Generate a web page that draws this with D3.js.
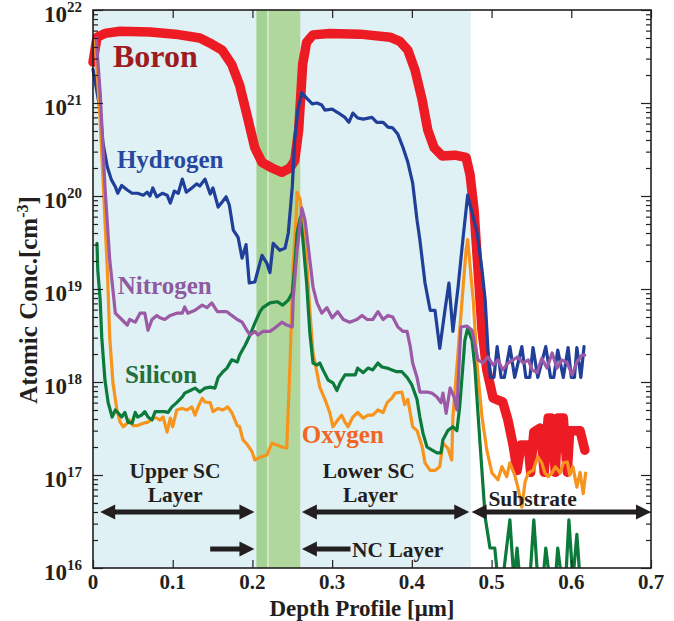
<!DOCTYPE html>
<html>
<head>
<meta charset="utf-8">
<script src="https://cdn.jsdelivr.net/npm/d3@7"></script>
<style>
  body { margin: 0; background: #fff; }
  text { font-family: "Liberation Serif", "Times New Roman", serif; font-weight: bold; }
</style>
</head>
<body>
<svg width="674" height="621"></svg>
<script>
// SIMS depth profile, [depth in um, concentration in cm^-3]
const boron = [[0,2.75e21],[0.005,5.1e21],[0.015,5.6e21],[0.034,5.9e21],[0.0715,5.8e21],[0.103,5.5e21],[0.134,5.0e21],[0.149,4.3e21],[0.162,3.7e21],[0.174,2.6e21],[0.184,1.55e21],[0.194,6.9e20],[0.203,3.3e20],[0.212,2.3e20],[0.2245,2.0e20],[0.237,1.8e20],[0.247,2.0e20],[0.253,2.4e20],[0.258,5.1e20],[0.263,2.6e21],[0.268,4.5e21],[0.276,5.4e21],[0.297,5.6e21],[0.335,5.5e21],[0.3726,5.1e21],[0.385,4.6e21],[0.395,3.7e21],[0.404,2.25e21],[0.413,1.07e21],[0.420,5.1e20],[0.428,3.3e20],[0.438,2.7e20],[0.454,2.75e20],[0.468,2.6e20],[0.473,1.7e20],[0.478,7.1e19],[0.483,1.6e19],[0.488,3.6e18],[0.494,1.35e18],[0.502,6.7e17],[0.514,6.1e17],[0.5205,3.9e17],[0.527,2.1e17],[0.532,1.12e17],[0.537,2.1e17],[0.546,2.1e17],[0.549,1.07e17],[0.553,2.9e17],[0.561,3.2e17],[0.566,1.07e17],[0.571,4.1e17],[0.5745,4.1e17],[0.580,1.07e17],[0.583,4.1e17],[0.590,4.1e17],[0.595,1.07e17],[0.598,3.0e17],[0.611,3.0e17],[0.617,1.85e17]];

const hydrogen = [[0,2.3e21],[0.009,8.4e20],[0.0125,3.7e20],[0.018,2.05e20],[0.023,1.5e20],[0.028,1.26e20],[0.031,1.07e20],[0.036,1.3e20],[0.043,1.16e20],[0.049,1.07e20],[0.056,1.07e20],[0.063,1.02e20],[0.068,1.1e20],[0.0715,1.0e20],[0.075,1.22e20],[0.080,0.98e20],[0.087,1.07e20],[0.093,1.02e20],[0.097,8.4e19],[0.102,1.13e20],[0.107,1.07e20],[0.112,1.52e20],[0.117,1.1e20],[0.124,1.22e20],[0.130,1.35e20],[0.134,1.28e20],[0.1405,1.52e20],[0.147,1.05e20],[0.1505,1.22e20],[0.157,7.6e19],[0.162,8.6e19],[0.167,9.8e19],[0.171,8.0e19],[0.176,4.3e19],[0.182,3.6e19],[0.187,2.15e19],[0.192,3.0e19],[0.196,1.16e19],[0.203,1.19e19],[0.212,2.3e19],[0.218,1.9e19],[0.222,1.5e19],[0.226,3.1e19],[0.2345,2.6e19],[0.241,2.75e19],[0.245,4.0e19],[0.250,1.26e20],[0.253,4.0e20],[0.257,8.4e20],[0.262,1.29e21],[0.268,1.13e21],[0.275,9.8e20],[0.281,1.0e21],[0.287,9.5e20],[0.291,8.4e20],[0.300,8.6e20],[0.307,7.9e20],[0.316,7.0e20],[0.321,6.2e20],[0.326,7.8e20],[0.332,6.9e20],[0.339,6.7e20],[0.350,7.0e20],[0.356,6.2e20],[0.364,6.2e20],[0.370,5.5e20],[0.376,5.4e20],[0.3825,4.6e20],[0.389,3.3e20],[0.395,2.3e20],[0.401,1.38e20],[0.4065,5.5e19],[0.410,3.4e19],[0.4165,1.16e19],[0.423,5.9e18],[0.429,5.9e18],[0.435,2.3e18],[0.4415,5.9e18],[0.4465,1.16e19],[0.4515,3.5e18],[0.458,1.05e19],[0.464,3.4e19],[0.470,1.02e20],[0.482,4.0e19],[0.488,1.6e19],[0.492,7.6e18],[0.4955,2.2e18],[0.4985,1.12e18],[0.503,1.12e18],[0.507,2.4e18],[0.512,1.12e18],[0.516,1.12e18],[0.523,2.4e18],[0.529,1.12e18],[0.538,2.4e18],[0.543,1.12e18],[0.548,1.12e18],[0.552,2.35e18],[0.558,1.12e18],[0.568,2.4e18],[0.574,1.12e18],[0.578,1.12e18],[0.583,2.2e18],[0.590,1.12e18],[0.596,2.35e18],[0.600,1.12e18],[0.604,1.12e18],[0.607,2.35e18],[0.612,1.12e18],[0.616,2.4e18]];

const nitrogen = [[0.004,5.0e21],[0.009,1.29e21],[0.015,1.26e20],[0.021,2.05e19],[0.025,9.8e18],[0.028,5.5e18],[0.036,4.7e18],[0.043,4.1e18],[0.046,4.7e18],[0.053,4.4e18],[0.059,5.5e18],[0.065,5.5e18],[0.069,3.6e18],[0.074,4.7e18],[0.080,5.2e18],[0.084,4.9e18],[0.090,4.7e18],[0.097,5.2e18],[0.105,5.5e18],[0.112,5.5e18],[0.115,6.4e18],[0.119,5.5e18],[0.128,5.9e18],[0.137,6.7e18],[0.143,6.3e18],[0.149,7.1e18],[0.156,5.7e18],[0.162,5.7e18],[0.168,5.7e18],[0.174,5.2e18],[0.181,4.7e18],[0.187,4.4e18],[0.193,3.6e18],[0.197,3.2e18],[0.203,3.5e18],[0.207,3.2e18],[0.213,3.5e18],[0.222,3.5e18],[0.228,3.8e18],[0.237,4.4e18],[0.243,4.1e18],[0.250,3.9e18],[0.251,7.6e18],[0.256,2.6e19],[0.262,7.4e19],[0.266,5.5e19],[0.272,2.05e19],[0.276,1.05e19],[0.281,7.1e18],[0.287,5.5e18],[0.2935,6.3e18],[0.300,4.9e18],[0.307,5.7e18],[0.314,4.7e18],[0.322,4.4e18],[0.331,4.7e18],[0.3375,5.2e18],[0.344,4.7e18],[0.351,4.7e18],[0.3575,5.7e18],[0.364,4.7e18],[0.370,5.2e18],[0.376,5.0e18],[0.3825,3.9e18],[0.389,3.5e18],[0.394,3.5e18],[0.398,2.4e18],[0.401,1.6e18],[0.4065,1.12e18],[0.410,7.8e17],[0.419,7.8e17],[0.425,7.6e17],[0.4315,6.9e17],[0.4365,6.0e17],[0.439,7.6e17],[0.443,4.6e17],[0.448,8.6e17],[0.453,6.9e17],[0.4565,5.0e17],[0.4615,3.9e18],[0.469,4.0e18],[0.4755,3.6e18],[0.483,1.73e18],[0.489,1.6e18],[0.4955,1.86e18],[0.502,1.52e18],[0.508,1.73e18],[0.514,1.35e18],[0.5205,1.6e18],[0.527,1.73e18],[0.533,1.86e18],[0.5395,1.6e18],[0.546,1.73e18],[0.551,1.35e18],[0.557,1.26e18],[0.563,1.8e18],[0.5695,1.41e18],[0.576,2.05e18],[0.582,1.41e18],[0.588,1.73e18],[0.595,1.6e18],[0.601,1.19e18],[0.607,1.64e18],[0.6135,1.95e18],[0.617,1.95e18]];

const silicon = [[0.005,3.1e19],[0.006,1.6e19],[0.009,7.6e18],[0.011,3.0e18],[0.015,1.05e18],[0.019,6.0e17],[0.024,4.2e17],[0.028,5.0e17],[0.031,4.7e17],[0.036,4.2e17],[0.040,4.7e17],[0.044,3.7e17],[0.049,3.6e17],[0.053,4.7e17],[0.056,4.2e17],[0.061,4.4e17],[0.065,4.8e17],[0.069,4.2e17],[0.074,3.9e17],[0.078,4.8e17],[0.084,4.8e17],[0.090,4.8e17],[0.094,4.7e17],[0.099,5.4e17],[0.105,6.0e17],[0.112,6.9e17],[0.115,7.6e17],[0.122,8.1e17],[0.128,8.6e17],[0.134,7.8e17],[0.1405,8.6e17],[0.147,8.8e17],[0.153,8.6e17],[0.157,1.12e18],[0.163,1.29e18],[0.168,1.41e18],[0.174,1.73e18],[0.181,1.64e18],[0.184,1.95e18],[0.191,2.5e18],[0.197,3.2e18],[0.203,4.3e18],[0.2095,5.7e18],[0.213,6.3e18],[0.222,7.1e18],[0.231,7.3e18],[0.238,6.7e18],[0.245,7.6e18],[0.250,9.1e18],[0.253,1.73e19],[0.256,4.0e19],[0.260,5.9e19],[0.263,3.6e19],[0.268,1.16e19],[0.272,3.4e18],[0.276,1.6e18],[0.281,1.52e18],[0.2845,1.6e18],[0.2885,1.35e18],[0.295,1.05e18],[0.301,9.8e17],[0.306,8.1e17],[0.310,9.8e17],[0.316,1.19e18],[0.322,1.19e18],[0.329,1.19e18],[0.332,1.41e18],[0.339,1.26e18],[0.345,1.41e18],[0.351,1.35e18],[0.3575,1.6e18],[0.3625,1.45e18],[0.369,1.41e18],[0.375,1.35e18],[0.381,1.29e18],[0.3875,1.29e18],[0.394,1.12e18],[0.400,9.3e17],[0.4065,6.5e17],[0.410,4.2e17],[0.414,2.8e17],[0.419,2.0e17],[0.425,1.86e17],[0.4315,1.73e17],[0.4365,1.73e17],[0.439,2.4e17],[0.445,3.0e17],[0.4515,3.3e17],[0.4565,3.0e17],[0.460,5.4e17],[0.4665,2.8e18],[0.470,3.8e18],[0.4755,2.8e18],[0.479,1.45e18],[0.4855,2.2e17],[0.492,3.5e16],[0.498,1.64e16],[0.504,1.64e16],[0.508,7.4e15],[0.514,7.4e15],[0.523,3.3e16],[0.528,7.4e15],[0.532,1.64e16],[0.5355,7.4e15],[0.548,7.4e15],[0.553,3.3e16],[0.558,7.4e15],[0.5645,7.4e15],[0.568,1.64e16],[0.573,7.4e15],[0.580,7.4e15],[0.583,1.64e16],[0.588,7.4e15],[0.593,7.4e15],[0.597,3.3e16],[0.602,7.4e15],[0.607,2.3e16],[0.611,7.4e15]];

const oxygen = [[0.0025,4.8e21],[0.009,6.6e20],[0.015,5.5e19],[0.018,1.6e19],[0.021,3.0e18],[0.025,9.8e17],[0.030,5.0e17],[0.034,3.7e17],[0.038,3.3e17],[0.043,3.6e17],[0.046,3.9e17],[0.050,3.4e17],[0.056,3.4e17],[0.063,3.6e17],[0.069,3.7e17],[0.075,4.1e17],[0.080,4.1e17],[0.084,3.9e17],[0.088,4.2e17],[0.093,2.9e17],[0.097,4.1e17],[0.100,3.3e17],[0.105,5.0e17],[0.112,5.2e17],[0.118,5.0e17],[0.124,5.4e17],[0.128,4.4e17],[0.132,5.4e17],[0.137,6.7e17],[0.1405,6.1e17],[0.147,6.0e17],[0.1505,4.8e17],[0.157,5.2e17],[0.163,5.0e17],[0.169,5.4e17],[0.174,4.7e17],[0.181,3.4e17],[0.184,3.3e17],[0.188,2.4e17],[0.194,2.1e17],[0.1995,1.78e17],[0.203,1.45e17],[0.2095,1.55e17],[0.218,1.64e17],[0.2245,2.2e17],[0.231,2.1e17],[0.237,2.0e17],[0.243,1.95e17],[0.247,1.45e18],[0.251,1.73e19],[0.255,6.3e19],[0.256,1.1e20],[0.260,9.1e19],[0.263,5.1e19],[0.268,2.05e19],[0.272,5.9e18],[0.276,2.05e18],[0.281,1.26e18],[0.2845,8.8e17],[0.291,6.5e17],[0.297,4.7e17],[0.301,3.3e17],[0.307,3.9e17],[0.312,4.4e17],[0.316,3.7e17],[0.320,3.3e17],[0.326,4.2e17],[0.332,4.7e17],[0.339,4.1e17],[0.345,4.4e17],[0.351,4.4e17],[0.3575,5.0e17],[0.364,4.7e17],[0.369,6.0e17],[0.375,6.7e17],[0.379,7.6e17],[0.3875,7.8e17],[0.391,5.7e17],[0.395,6.5e17],[0.401,3.3e17],[0.4065,3.0e17],[0.413,2.0e17],[0.4165,1.35e17],[0.423,1.12e17],[0.429,1.12e17],[0.435,1.23e17],[0.439,2.2e17],[0.445,1.95e17],[0.450,1.45e17],[0.4515,4.2e17],[0.4565,1.45e18],[0.463,7.6e18],[0.468,2.6e19],[0.470,3.4e19],[0.477,7.6e18],[0.482,1.45e18],[0.488,4.2e17],[0.494,1.86e17],[0.5005,1.05e17],[0.508,8.9e16],[0.513,1.23e17],[0.519,9.6e16],[0.523,1.35e17],[0.529,1.0e17],[0.533,7.4e16],[0.538,4.5e16],[0.542,8.4e16],[0.546,1.05e17],[0.552,1.12e17],[0.558,1.57e17],[0.563,1.35e17],[0.567,1.05e17],[0.571,9.6e16],[0.576,1.05e17],[0.580,1.23e17],[0.586,1.05e17],[0.590,1.35e17],[0.595,1.38e17],[0.598,1.0e17],[0.602,1.23e17],[0.607,7.4e16],[0.611,1.07e17],[0.615,6.3e16],[0.618,1.05e17]];

// layers (depth, um)
const scLayers = [0, 0.474];
const ncLayer = [0.205, 0.26];
const ncSeam = 0.2195;

// ticks
const xTicks = [0, 0.1, 0.2, 0.3, 0.4, 0.5, 0.6, 0.7];
const yDecades = [16, 17, 18, 19, 20, 21, 22];

let x = d3.scaleLinear().domain([0, 0.7]).range([93, 651]);
let y = d3.scaleLog().domain([1e16, 1e22]).range([568, 10]);

const ink = "#231f20";
let svg = d3.select("svg");

// background regions
svg.append("rect")
  .attr("x", x(scLayers[0])).attr("y", y(1e22))
  .attr("width", x(scLayers[1]) - x(scLayers[0])).attr("height", y(1e16) - y(1e22))
  .attr("fill", "#dff1f4");
svg.append("rect")
  .attr("x", x(ncLayer[0])).attr("y", y(1e22))
  .attr("width", x(ncSeam) - x(ncLayer[0])).attr("height", y(1e16) - y(1e22))
  .attr("fill", "#a3d292");
svg.append("rect")
  .attr("x", x(ncSeam)).attr("y", y(1e22))
  .attr("width", x(ncLayer[1]) - x(ncSeam)).attr("height", y(1e16) - y(1e22))
  .attr("fill", "#b0d89c");
svg.append("line")
  .attr("x1", x(ncSeam)).attr("x2", x(ncSeam))
  .attr("y1", y(1e22)).attr("y2", y(1e16))
  .attr("stroke", "#f4fbef").attr("stroke-width", 1);

// clip for lines
svg.append("clipPath").attr("id", "plotclip")
  .append("rect").attr("x", 80).attr("y", 0).attr("width", 571).attr("height", 568);

let line = d3.line()
  .x(function (d) { return x(d[0]); })
  .y(function (d) { return y(d[1]); });

let series = [
  { data: boron, color: "#ed1c24", w: 9.5 },
  { data: hydrogen, color: "#1f3f99", w: 3.2 },
  { data: oxygen, color: "#f7941d", w: 3.2 },
  { data: silicon, color: "#0b7a3b", w: 3.2 },
  { data: nitrogen, color: "#9b59a6", w: 3.2 }
];

let lines = svg.append("g").attr("clip-path", "url(#plotclip)");
series.forEach(function (s) {
  lines.append("path")
    .datum(s.data)
    .attr("d", line)
    .attr("fill", "none")
    .attr("stroke", s.color)
    .attr("stroke-width", s.w)
    .attr("stroke-linejoin", "round")
    .attr("stroke-linecap", "round");
});

// axes with inward ticks
let minorValues = [];
yDecades.slice(0, -1).forEach(function (e) {
  for (let k = 2; k <= 9; k++) minorValues.push(k * Math.pow(10, e));
});
let majorValues = yDecades.map(function (e) { return Math.pow(10, e); });

let yAxisL = d3.axisRight(y).tickValues(majorValues).tickSize(10).tickFormat("");
let yAxisLm = d3.axisRight(y).tickValues(minorValues).tickSize(5).tickFormat("");
let yAxisR = d3.axisLeft(y).tickValues(majorValues).tickSize(10).tickFormat("");
let yAxisRm = d3.axisLeft(y).tickValues(minorValues).tickSize(5).tickFormat("");
let xAxisB = d3.axisTop(x).tickValues(xTicks).tickSize(8).tickFormat("");
let xAxisT = d3.axisBottom(x).tickValues(xTicks).tickSize(8).tickFormat("");

function styleAxis(g) {
  g.select(".domain").attr("stroke", ink).attr("stroke-width", 1.6);
  g.selectAll(".tick line").attr("stroke", ink).attr("stroke-width", 1.2);
}
svg.append("g").attr("transform", "translate(93,0)").call(yAxisL).call(styleAxis);
svg.append("g").attr("transform", "translate(93,0)").call(yAxisLm).call(styleAxis);
svg.append("g").attr("transform", "translate(651,0)").call(yAxisR).call(styleAxis);
svg.append("g").attr("transform", "translate(651,0)").call(yAxisRm).call(styleAxis);
svg.append("g").attr("transform", "translate(0,568)").call(xAxisB).call(styleAxis);
svg.append("g").attr("transform", "translate(0,10)").call(xAxisT).call(styleAxis);
svg.selectAll(".domain").attr("d", null);
svg.append("rect")
  .attr("x", 93).attr("y", 10).attr("width", 558).attr("height", 558)
  .attr("fill", "none").attr("stroke", ink).attr("stroke-width", 1.6);

// tick labels
svg.selectAll(".xlab").data(xTicks).enter().append("text")
  .attr("x", function (d) { return x(d); })
  .attr("y", 589)
  .attr("text-anchor", "middle")
  .attr("font-size", 21)
  .attr("fill", ink)
  .text(function (d) { return d === 0 ? "0" : d3.format(".1f")(d); });

yDecades.forEach(function (e) {
  let yy = y(Math.pow(10, e));
  svg.append("text").attr("x", 67).attr("y", yy + 12)
    .attr("text-anchor", "end").attr("font-size", 23).attr("fill", ink).text("10");
  svg.append("text").attr("x", 67).attr("y", yy + 2)
    .attr("font-size", 15).attr("fill", ink).text(e);
});

// axis titles
svg.append("text")
  .attr("x", 362).attr("y", 616)
  .attr("text-anchor", "middle").attr("font-size", 23).attr("fill", ink)
  .text("Depth Profile [μm]");

let yt = svg.append("text")
  .attr("transform", "translate(37,300) rotate(-90)")
  .attr("text-anchor", "middle").attr("font-size", 25).attr("fill", ink);
yt.append("tspan").text("Atomic Conc.[cm");
yt.append("tspan").attr("dy", -9).attr("font-size", 16).text("-3");
yt.append("tspan").attr("dy", 9).text("]");

// series labels
let labels = [
  { t: "Boron", x: 0.025, y: 67, size: 32, color: "#9e1b20" },
  { t: "Hydrogen", x: 0.03, y: 168, size: 25, color: "#2747a0" },
  { t: "Nitrogen", x: 0.031, y: 294, size: 25, color: "#8e5aa0" },
  { t: "Silicon", x: 0.04, y: 383, size: 25, color: "#22703a" },
  { t: "Oxygen", x: 0.262, y: 443, size: 25, color: "#f26522" }
];
labels.forEach(function (l) {
  svg.append("text").attr("x", x(l.x)).attr("y", l.y)
    .attr("font-size", l.size).attr("fill", l.color).text(l.t);
});

// layer annotations
let notes = [
  { t: "Upper SC", x: 0.103, y: 478, a: "middle" },
  { t: "Layer", x: 0.103, y: 502, a: "middle" },
  { t: "Lower SC", x: 0.346, y: 478, a: "middle" },
  { t: "Layer", x: 0.348, y: 502, a: "middle" },
  { t: "Substrate", x: 0.496, y: 506, a: "start" },
  { t: "NC Layer", x: 0.325, y: 557, a: "start" }
];
notes.forEach(function (n) {
  svg.append("text").attr("x", x(n.x)).attr("y", n.y)
    .attr("text-anchor", n.a).attr("font-size", 21.5).attr("fill", ink).text(n.t);
});

// arrows
function arrow(x1, x2, yy, headL, headR) {
  let hl = 15, hw = 7.5;
  let a = x(x1), b = x(x2);
  svg.append("line")
    .attr("x1", headL ? a + hl - 1 : a).attr("x2", headR ? b - hl + 1 : b)
    .attr("y1", yy).attr("y2", yy)
    .attr("stroke", ink).attr("stroke-width", 5);
  if (headL) svg.append("path")
    .attr("d", "M" + a + "," + yy + "L" + (a + hl) + "," + (yy - hw) + "L" + (a + hl) + "," + (yy + hw) + "Z")
    .attr("fill", ink);
  if (headR) svg.append("path")
    .attr("d", "M" + b + "," + yy + "L" + (b - hl) + "," + (yy - hw) + "L" + (b - hl) + "," + (yy + hw) + "Z")
    .attr("fill", ink);
}
arrow(0.009, 0.2025, y(4e16), true, true);
arrow(0.262, 0.472, y(4e16), true, true);
arrow(0.475, 0.7, y(4e16), true, true);
arrow(0.147, 0.2025, y(1.6e16), false, true);
arrow(0.262, 0.323, y(1.6e16), true, false);
</script>
</body>
</html>
